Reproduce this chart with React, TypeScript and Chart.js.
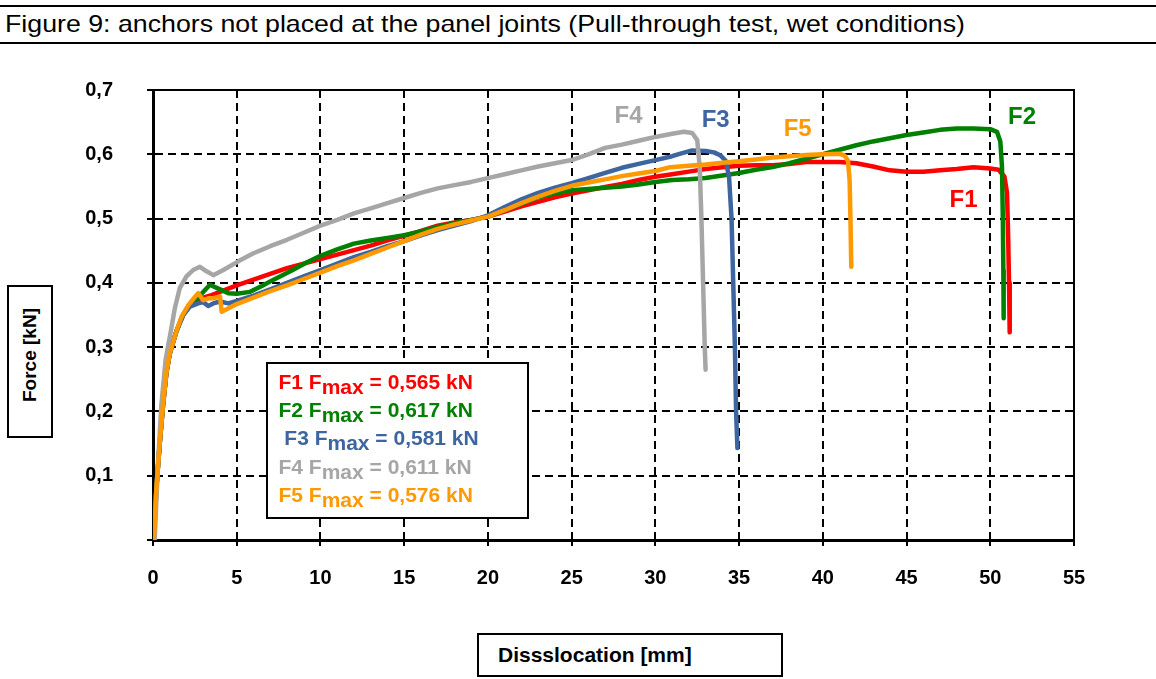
import React, { useEffect, useLayoutEffect, useRef } from 'react';
import { Chart, registerables } from 'chart.js';

Chart.register(...registerables);

const FONT = '"Liberation Sans", Arial, Helvetica, sans-serif';

const xTickValues = [0, 5, 10, 15, 20, 25, 30, 35, 40, 45, 50, 55];
const xTickLabels = ['0', '5', '10', '15', '20', '25', '30', '35', '40', '45', '50', '55'];
const yTickValues = [0.1, 0.2, 0.3, 0.4, 0.5, 0.6, 0.7];
const yTickLabels = ['0,1', '0,2', '0,3', '0,4', '0,5', '0,6', '0,7'];

const seriesNames = ['F1', 'F2', 'F3', 'F4', 'F5'];
const seriesColors = ['#FF0000', '#008000', '#3D65A0', '#A6A6A6', '#FF9900'];
const fmaxValues = ['0,565', '0,617', '0,581', '0,611', '0,576'];

// [displacement mm, force kN]
const f1 = [
  [0.05, 0], [0.2, 0.08], [0.4, 0.15], [0.6, 0.21], [0.8, 0.26], [1.0, 0.29], [1.4, 0.325], [1.8, 0.35],
  [2.2, 0.365], [2.6, 0.374], [3.0, 0.377], [3.5, 0.381], [4.0, 0.386], [5, 0.396], [6, 0.405], [7, 0.414],
  [8, 0.423], [9, 0.43], [10, 0.437], [11, 0.444], [12, 0.451], [13, 0.458], [14, 0.466], [15, 0.473],
  [16, 0.481], [17, 0.489], [18, 0.494], [19, 0.498], [20, 0.503], [21, 0.511], [22, 0.519], [23, 0.526],
  [24, 0.533], [25, 0.539], [26, 0.544], [27, 0.549], [28, 0.554], [29, 0.56], [30, 0.565], [31, 0.569],
  [32, 0.573], [33, 0.577], [34, 0.58], [35, 0.582], [36, 0.583], [37, 0.583], [38, 0.585], [39, 0.588],
  [40, 0.588], [41, 0.588], [42, 0.586], [43, 0.581], [44, 0.575], [45, 0.573], [46, 0.573], [47, 0.575],
  [48, 0.577], [49, 0.58], [50, 0.578], [50.5, 0.576], [50.85, 0.565], [51.0, 0.54], [51.07, 0.47],
  [51.12, 0.4], [51.16, 0.323],
];
const f2 = [
  [0.05, 0], [0.2, 0.08], [0.4, 0.15], [0.6, 0.21], [0.8, 0.26], [1.0, 0.29], [1.4, 0.325], [1.8, 0.35],
  [2.2, 0.365], [2.6, 0.374], [2.9, 0.383], [3.4, 0.397], [3.9, 0.391], [4.5, 0.384], [5.0, 0.383],
  [5.8, 0.386], [6.5, 0.395], [7.2, 0.405], [8.2, 0.418], [9.2, 0.432], [10, 0.442], [11, 0.452],
  [12, 0.461], [13, 0.466], [14, 0.47], [15, 0.474], [16, 0.48], [17, 0.487], [18, 0.493], [19, 0.498],
  [20, 0.503], [21, 0.513], [22, 0.523], [23, 0.533], [24, 0.539], [25, 0.544], [26, 0.546], [27, 0.548],
  [28, 0.55], [29, 0.553], [30, 0.557], [31, 0.56], [32, 0.561], [33, 0.563], [34, 0.567], [35, 0.571],
  [36, 0.576], [37, 0.58], [38, 0.586], [39, 0.593], [40, 0.6], [41, 0.607], [42, 0.614], [43, 0.62],
  [44, 0.625], [45, 0.63], [46, 0.634], [47, 0.638], [48, 0.64], [49, 0.64], [50, 0.639], [50.4, 0.635],
  [50.6, 0.62], [50.7, 0.58], [50.75, 0.5], [50.78, 0.42], [50.8, 0.345],
];
const f3 = [
  [0.05, 0], [0.2, 0.08], [0.4, 0.15], [0.6, 0.21], [0.8, 0.26], [1.0, 0.29], [1.4, 0.325], [1.8, 0.35],
  [2.2, 0.363], [2.7, 0.368], [3.0, 0.37], [3.3, 0.364], [3.6, 0.368], [4.0, 0.371], [4.5, 0.368],
  [5.0, 0.372], [6, 0.38], [7, 0.39], [8, 0.4], [9, 0.41], [10, 0.42], [11, 0.43], [12, 0.44], [13, 0.448],
  [14, 0.457], [15, 0.465], [16, 0.474], [17, 0.482], [18, 0.489], [19, 0.496], [20, 0.505], [21, 0.518],
  [22, 0.53], [23, 0.54], [24, 0.548], [25, 0.555], [26, 0.563], [27, 0.571], [28, 0.579], [29, 0.585],
  [30, 0.591], [31, 0.597], [31.5, 0.601], [32.2, 0.606], [33, 0.605], [33.5, 0.603], [33.9, 0.598],
  [34.2, 0.59], [34.4, 0.565], [34.55, 0.5], [34.65, 0.4], [34.75, 0.3], [34.82, 0.2], [34.9, 0.143],
];
const f4 = [
  [0.1, 0], [0.3, 0.12], [0.5, 0.21], [0.75, 0.28], [1.1, 0.33], [1.3, 0.36], [1.6, 0.392], [2.0, 0.41],
  [2.4, 0.42], [2.8, 0.425], [3.2, 0.418], [3.6, 0.412], [4.2, 0.42], [5.2, 0.435], [6, 0.446], [7, 0.457],
  [8, 0.467], [9, 0.478], [10, 0.489], [11, 0.498], [12, 0.508], [13, 0.516], [14, 0.524], [15, 0.532],
  [16, 0.54], [17, 0.547], [18, 0.552], [19, 0.557], [20, 0.563], [21, 0.569], [22, 0.575], [23, 0.581],
  [24, 0.586], [25, 0.591], [26, 0.6], [27, 0.61], [28, 0.615], [29, 0.621], [30, 0.627], [31, 0.632],
  [31.7, 0.635], [32.2, 0.633], [32.5, 0.622], [32.65, 0.58], [32.75, 0.5], [32.85, 0.4], [32.95, 0.3],
  [33.0, 0.265],
];
const f5 = [
  [0.05, 0], [0.2, 0.08], [0.4, 0.15], [0.6, 0.21], [0.8, 0.26], [1.0, 0.29], [1.4, 0.325], [1.7, 0.347],
  [2.1, 0.365], [2.5, 0.378], [2.7, 0.384], [3.0, 0.373], [3.3, 0.376], [3.6, 0.376], [4.0, 0.379],
  [4.1, 0.355], [4.4, 0.359], [5.0, 0.367], [6, 0.377], [7, 0.387], [8, 0.396], [9, 0.406], [10, 0.416],
  [11, 0.426], [12, 0.435], [13, 0.445], [14, 0.455], [15, 0.465], [16, 0.475], [17, 0.484], [18, 0.491],
  [19, 0.497], [20, 0.503], [21, 0.513], [22, 0.524], [23, 0.534], [24, 0.543], [25, 0.551], [26, 0.556],
  [27, 0.561], [28, 0.566], [29, 0.57], [30, 0.574], [30.9, 0.58], [32, 0.582], [33, 0.584], [34, 0.587],
  [35, 0.589], [36, 0.592], [37, 0.595], [38, 0.597], [39, 0.599], [40, 0.6], [41, 0.601], [41.3, 0.598],
  [41.5, 0.59], [41.6, 0.56], [41.65, 0.5], [41.7, 0.425],
];
const seriesData = [f1, f2, f3, f4, f5];

// label anchors for curve names, in data units
const nameLabelX = [48.4, 51.9, 33.6, 28.4, 38.5];
const nameLabelY = [0.529, 0.658, 0.653, 0.659, 0.638];

const decorPlugin = {
  id: 'decor',
  beforeDatasetsDraw(chart: any) {
    const { ctx, chartArea: a } = chart;
    ctx.save();
    ctx.strokeStyle = '#000';
    ctx.lineWidth = 2;
    ctx.setLineDash([]);
    ctx.beginPath();
    ctx.moveTo(a.left, a.top);
    ctx.lineTo(a.right, a.top);
    ctx.lineTo(a.right, a.bottom);
    ctx.stroke();
    ctx.restore();
  },
  afterDatasetsDraw(chart: any) {
    const { ctx, chartArea: a } = chart;
    const xs = chart.scales.x;
    const ys = chart.scales.y;
    ctx.save();
    // curve names
    ctx.font = `bold 24px ${FONT}`;
    ctx.textAlign = 'center';
    ctx.textBaseline = 'middle';
    seriesNames.forEach((n, i) => {
      ctx.fillStyle = seriesColors[i];
      ctx.fillText(n, xs.getPixelForValue(nameLabelX[i]), ys.getPixelForValue(nameLabelY[i]));
    });
    // legend box
    const bx = a.left + 114;
    const by = a.top + 273;
    const bw = 261;
    const bh = 155;
    ctx.fillStyle = '#fff';
    ctx.fillRect(bx, by, bw, bh);
    ctx.strokeStyle = '#000';
    ctx.lineWidth = 2;
    ctx.strokeRect(bx, by, bw, bh);
    ctx.font = `bold 21px ${FONT}`;
    ctx.textAlign = 'left';
    ctx.textBaseline = 'alphabetic';
    seriesNames.forEach((n, i) => {
      const prefix = (i === 2 ? ' ' : '') + n + ' F';
      let x = bx + 11.5;
      const y = by + 26 + i * 28.2;
      ctx.fillStyle = seriesColors[i];
      ctx.fillText(prefix, x, y);
      x += ctx.measureText(prefix).width;
      ctx.fillText('max', x, y + 5);
      x += ctx.measureText('max').width;
      ctx.fillText(' = ' + fmaxValues[i] + ' kN', x, y);
    });
    ctx.restore();
  },
};

export default function App() {
  const canvasRef = useRef<HTMLCanvasElement | null>(null);
  const titleRef = useRef<HTMLSpanElement | null>(null);

  useLayoutEffect(() => {
    const el = titleRef.current;
    if (el) {
      el.style.transform = 'none';
      const w = el.getBoundingClientRect().width;
      if (w > 0) el.style.transform = `scaleX(${960 / w})`;
    }
  }, []);

  useEffect(() => {
    const canvas = canvasRef.current;
    if (!canvas) return;
    const tickFont = { family: FONT, size: 20, weight: 'bold' as const };
    const chart = new Chart(canvas, {
      type: 'line',
      data: {
        datasets: seriesData.map((s, i) => ({
          label: seriesNames[i],
          data: s.map(([x, y]) => ({ x, y })),
          borderColor: seriesColors[i],
          backgroundColor: seriesColors[i],
          borderWidth: 4.5,
          pointRadius: 0,
          tension: 0,
          fill: false,
          borderJoinStyle: 'round' as const,
          borderCapStyle: 'round' as const,
          order: 5 - i,
        })),
      },
      options: {
        animation: false,
        responsive: false,
        maintainAspectRatio: false,
        layout: { padding: { top: 90, right: 82, bottom: 79, left: 0 } },
        plugins: {
          legend: { display: false },
          tooltip: { enabled: false },
          title: { display: false },
        },
        scales: {
          x: {
            type: 'linear',
            min: 0,
            max: 55,
            afterFit: (s: any) => {
              s.height = 60;
            },
            afterBuildTicks: (s: any) => {
              s.ticks = xTickValues.map((v) => ({ value: v }));
            },
            ticks: {
              color: '#000',
              font: tickFont,
              padding: 20,
              maxRotation: 0,
              autoSkip: false,
              callback: (v: any) => {
                const i = xTickValues.indexOf(Number(v));
                return i >= 0 ? xTickLabels[i] : '';
              },
            },
            grid: {
              color: '#000',
              lineWidth: 2,
              tickLength: 6,
              tickColor: '#000',
              tickWidth: 2,
              tickBorderDash: [],
            },
            border: { display: true, color: '#000', width: 3, dash: [8, 5] },
          },
          y: {
            type: 'linear',
            min: 0,
            max: 0.7,
            afterFit: (s: any) => {
              s.width = 153;
            },
            afterBuildTicks: (s: any) => {
              s.ticks = [0, ...yTickValues].map((v) => ({ value: v }));
            },
            ticks: {
              color: '#000',
              font: tickFont,
              padding: 34,
              autoSkip: false,
              callback: (v: any) => {
                const i = yTickValues.findIndex((t) => Math.abs(t - Number(v)) < 1e-6);
                return i >= 0 ? yTickLabels[i] : '';
              },
            },
            grid: {
              color: '#000',
              lineWidth: 2,
              tickLength: 6,
              tickColor: '#000',
              tickWidth: 2,
              tickBorderDash: [],
            },
            border: { display: true, color: '#000', width: 3, dash: [8, 5] },
          },
        },
      } as any,
      plugins: [decorPlugin],
    });
    return () => chart.destroy();
  }, []);

  return (
    <div
      style={{
        position: 'absolute',
        left: 0,
        top: 0,
        width: 1156,
        height: 679,
        background: '#fff',
        overflow: 'hidden',
        fontFamily: FONT,
      }}
    >
      <div style={{ position: 'absolute', left: 0, top: 5, width: 1156, height: 2, background: '#000' }} />
      <div style={{ position: 'absolute', left: 0, top: 42, width: 1156, height: 2, background: '#000' }} />
      <div style={{ position: 'absolute', left: 5, top: 12, whiteSpace: 'nowrap', lineHeight: '24px' }}>
        <span
          ref={titleRef}
          style={{ display: 'inline-block', fontSize: 24, color: '#000', transformOrigin: 'left center' }}
        >
          Figure 9: anchors not placed at the panel joints (Pull-through test, wet conditions)
        </span>
      </div>
      <canvas
        ref={canvasRef}
        width={1156}
        height={679}
        style={{ position: 'absolute', left: 0, top: 0 }}
      />
      <div
        style={{
          position: 'absolute',
          left: 7,
          top: 285,
          width: 46,
          height: 153,
          border: '2px solid #000',
          boxSizing: 'border-box',
          background: '#fff',
        }}
      >
        <span
          style={{
            position: 'absolute',
            left: 21,
            top: 68,
            transform: 'translate(-50%, -50%) rotate(-90deg)',
            whiteSpace: 'nowrap',
            fontWeight: 'bold',
            fontSize: 19,
            color: '#000',
          }}
        >
          Force [kN]
        </span>
      </div>
      <div
        style={{
          position: 'absolute',
          left: 477,
          top: 633,
          width: 306,
          height: 44,
          border: '2px solid #000',
          boxSizing: 'border-box',
          background: '#fff',
          paddingLeft: 19,
          lineHeight: '40px',
          fontWeight: 'bold',
          fontSize: 21,
          color: '#000',
          whiteSpace: 'nowrap',
        }}
      >
        Dissslocation [mm]
      </div>
    </div>
  );
}
